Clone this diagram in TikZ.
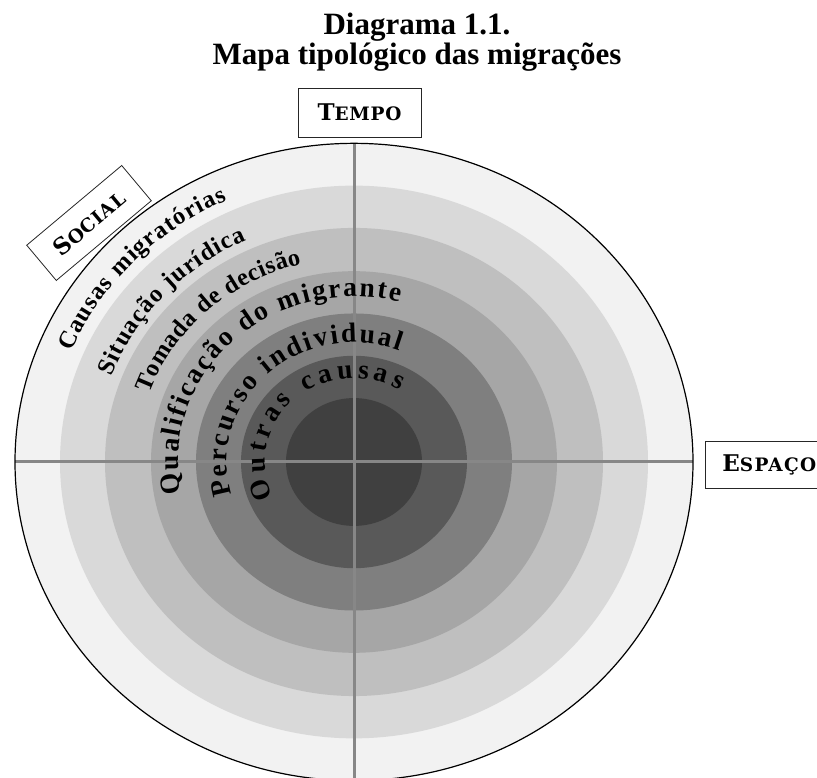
\documentclass[tikz,border=0pt]{standalone}
\usepackage{fontspec}
\setmainfont{Liberation Serif}
\newfontfamily\arcfamily{DejaVu Serif}
\usetikzlibrary{decorations.text}
\definecolor{ringA}{HTML}{F2F2F2}
\definecolor{ringB}{HTML}{D9D9D9}
\definecolor{ringC}{HTML}{BFBFBF}
\definecolor{ringD}{HTML}{A6A6A6}
\definecolor{ringE}{HTML}{7F7F7F}
\definecolor{ringF}{HTML}{595959}
\definecolor{ringG}{HTML}{404040}
\definecolor{crossgray}{HTML}{878787}
\newcommand\fsc[3][4]{{\arcfamily\bfseries\fontsize{23}{23}\selectfont #2}{\arcfamily\bfseries\fontsize{18.5}{18.5}\selectfont\addfontfeatures{LetterSpace=#1}#3}}
\newcommand\arcsmall{\bfseries\fontsize{24.5}{24.5}\selectfont}
\newcommand\arcbig{\bfseries\fontsize{27.5}{27.5}\selectfont}
\tikzset{
  crossline/.style={draw=crossgray, line width=3},
  labelbox/.style={draw=black!85, line width=0.8, fill=white, inner sep=0},
  titletext/.style={anchor=base, font=\bfseries\fontsize{31}{31}\selectfont},
  arctext/.style={decorate, decoration={text along path, text align={fit to path}, text={#1}}}
}
\begin{document}
\begin{tikzpicture}[x=1pt,y=1pt]
\useasboundingbox (0,0) rectangle (817,778);
\clip (0,0) rectangle (817,778);
\fill[white] (0,0) rectangle (817,778);
\coordinate (c) at (354,316);
\foreach \r/\col in {339/ringA,294/ringB,249/ringC,203/ringD,158/ringE,113/ringF,68/ringG}
  \fill[\col] (c) ellipse [x radius=\r, y radius=0.94*\r];
\coordinate (hl) at (15,316);
\coordinate (hr) at (693,316);
\coordinate (vt) at (354,635);
\coordinate (vb) at (354,-10);
\draw[crossline] (hl) -- (hr);
\draw[crossline] (vt) -- (vb);
\draw[black, line width=1.2] (c) ellipse [x radius=339, y radius=318.66];
% arc texts
\path[arctext={|\arcsmall|Causas migratórias}]
  ([shift={(157.5:306 and 287.6)}]c) arc[start angle=157.5, end angle=114.5, x radius=306, y radius=287.6];
\path[arctext={|\arcsmall|Situação jurídica}]
  ([shift={(159.5:259 and 243.5)}]c) arc[start angle=159.5, end angle=114.5, x radius=259, y radius=243.5];
\path[arctext={|\arcsmall|Tomada de decisão}]
  ([shift={(160.5:217 and 204)}]c) arc[start angle=160.5, end angle=104, x radius=217, y radius=204];
\path[arctext={|\arcbig|Qualificação do migrante}]
  ([shift={(191:176 and 165.4)}]c) arc[start angle=191, end angle=75, x radius=176, y radius=165.4];
\path[arctext={|\arcbig|Percurso individual}]
  ([shift={(196:127 and 119.4)}]c) arc[start angle=196, end angle=69, x radius=127, y radius=119.4];
\path[arctext={|\arcbig|Outras causas}]
  ([shift={(205:89 and 83.7)}]c) arc[start angle=205, end angle=59, x radius=89, y radius=83.7];
% label boxes
\node[labelbox, minimum width=123, minimum height=49] (tempo) at (359.5,665.5) {\fsc{T}{EMPO}};
\node[labelbox, minimum height=47, inner xsep=17, anchor=west] (espaco) at (705,313.5) {\fsc[7]{E}{SPAÇO}};
\node[labelbox, minimum width=124, minimum height=46, rotate=40] (social) at (89,555) {\fsc{S}{OCIAL}};
% title
\node[titletext] (t1) at (417,743) {Diagrama 1.1.};
\node[titletext] (t2) at (417,713) {Mapa tipológico das migrações};
\end{tikzpicture}
\end{document}
